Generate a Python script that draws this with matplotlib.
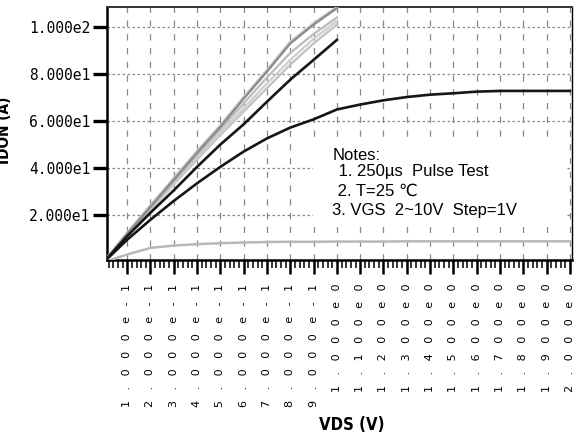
import matplotlib
matplotlib.use("Agg")
import matplotlib.pyplot as plt
from matplotlib.patches import Rectangle

# output characteristics, ID vs VDS for VGS = 2..10 V
vds_long = [0.0, 0.1, 0.2, 0.3, 0.4, 0.5, 0.6, 0.7, 0.8, 0.9, 1.0,
            1.1, 1.2, 1.3, 1.4, 1.5, 1.6, 1.7, 1.8, 1.9, 2.0]
vds_short = [0.0, 0.1, 0.2, 0.3, 0.4, 0.5, 0.6, 0.7, 0.8, 0.9, 1.0]

id_vgs2 = [0, 3.2, 6.0, 7.0, 7.6, 8.0, 8.3, 8.5, 8.6, 8.6, 8.7,
           8.7, 8.7, 8.8, 8.8, 8.8, 8.8, 8.8, 8.8, 8.8, 8.8]
id_vgs3 = [0, 9.5, 18.0, 26.0, 33.5, 40.5, 47.0, 52.6, 57.2, 60.7, 64.9,
           67.0, 68.8, 70.2, 71.2, 71.8, 72.5, 72.8, 72.8, 72.8, 72.8]
id_vgs4 = [0, 11.0, 21.0, 30.5, 40.5, 50.0, 58.6, 68.2, 77.6, 86.0, 94.5]
id_vgs5 = [0, 11.4, 22.2, 33.0, 43.6, 54.0, 64.0, 74.0, 84.0, 93.0, 101.0]
id_vgs6 = [0, 11.6, 22.6, 33.6, 44.5, 55.0, 65.5, 76.0, 86.0, 95.0, 102.5]
id_vgs7 = [0, 11.8, 23.0, 34.3, 45.5, 56.5, 67.5, 78.5, 89.0, 97.0, 104.0]
id_vgs8 = [0, 12.3, 24.0, 35.5, 47.0, 58.0, 70.0, 81.5, 93.5, 101.5, 108.3]
id_vgs9 = [0, 12.0, 23.5, 35.0, 46.5, 57.5, 69.5, 81.0, 93.0, 101.0, 108.0]

xtick_vals = [0.1, 0.2, 0.3, 0.4, 0.5, 0.6, 0.7, 0.8, 0.9, 1.0,
              1.1, 1.2, 1.3, 1.4, 1.5, 1.6, 1.7, 1.8, 1.9, 2.0]
xtick_labels = ["1.000e-1", "2.000e-1", "3.000e-1", "4.000e-1", "5.000e-1",
                "6.000e-1", "7.000e-1", "8.000e-1", "9.000e-1", "1.000e0",
                "1.100e0", "1.200e0", "1.300e0", "1.400e0", "1.500e0",
                "1.600e0", "1.700e0", "1.800e0", "1.900e0", "2.000e0"]
ytick_vals = [20, 40, 60, 80, 100]
ytick_labels = ["2.000e1", "4.000e1", "6.000e1", "8.000e1", "1.000e2"]

notes = ["Notes:", " 1. 250\u00b5s  Pulse Test", " 2. T=25 \u2103", "3. VGS  2~10V  Step=1V"]

fig = plt.figure(figsize=(5.78, 4.45), dpi=100)
ax = fig.add_axes([0.185, 0.4157, 0.8045, 0.5685])

# light curves first, dark ones on top
ax.plot(vds_long, id_vgs2, color="#b8b8b8", lw=1.8, zorder=3)
ax.plot(vds_short, id_vgs5, color="#c4c4c4", lw=1.7, zorder=3)
ax.plot(vds_short, id_vgs6, color="#cfcfcf", lw=1.7, zorder=3)
ax.plot(vds_short, id_vgs7, color="#bdbdbd", lw=1.7, zorder=3)
ax.plot(vds_short, id_vgs8, color="#c8c8c8", lw=2.2, zorder=3)
ax.plot(vds_short, id_vgs9, color="#8a8a8a", lw=1.6, zorder=4)
ax.plot(vds_short, id_vgs4, color="#151515", lw=1.9, zorder=5)
ax.plot(vds_long, id_vgs3, color="#151515", lw=1.9, zorder=5)

ax.set_xlim(0.013, 2.009)
ax.set_ylim(0.85, 108.5)

# ticks, labels written letter-spaced like the original plotter output
ax.set_xticks(xtick_vals)
ax.set_xticklabels(["   ".join(s) for s in xtick_labels], rotation=90,
                   family="DejaVu Sans", fontsize=8)
ax.set_xticks([v / 100 for v in range(2, 201, 2)], minor=True)
ax.set_yticks(ytick_vals)
ax.set_yticklabels(ytick_labels, family="DejaVu Sans Mono", fontsize=10.5)
ax.tick_params(axis="x", which="major", direction="out", length=10, width=1.8, pad=7)
ax.tick_params(axis="x", which="minor", direction="out", length=6, width=1.1)
ax.tick_params(axis="y", which="major", direction="out", length=10, width=2.4, pad=2)

# grid: dotted rows, dashed columns
ax.yaxis.grid(True, color="#888888", lw=0.9, dashes=(2, 2))
ax.xaxis.grid(True, color="#888888", lw=0.9, dashes=(5, 6))
ax.set_axisbelow(True)

for side in ["left", "bottom"]:
    ax.spines[side].set_linewidth(1.8)
ax.spines["top"].set_linewidth(1.4)
ax.spines["top"].set_color("#333333")
ax.spines["right"].set_linewidth(1.0)

# white panel behind the notes
ax.add_patch(Rectangle((0.443, 0.13), 0.544, 0.336, transform=ax.transAxes,
                       facecolor="white", edgecolor="none", zorder=1.5))
note_pos = [(0.486, 0.415), (0.488, 0.348), (0.487, 0.273), (0.484, 0.194)]
for (nx, ny), line in zip(note_pos, notes):
    ax.text(nx, ny, line, transform=ax.transAxes, va="center", ha="left",
            fontsize=12, family=["Liberation Sans", "DejaVu Sans"], zorder=6)

ax.set_xlabel("VDS (V)", fontsize=12, fontweight="bold", family="DejaVu Sans",
              fontstretch="condensed")
ax.xaxis.set_label_coords(0.527, -0.615)
fig.text(0.021, 0.708, "IDON (A)", rotation=90, ha="right", va="center",
         fontsize=11, fontweight="bold", family="DejaVu Sans",
         fontstretch="condensed")

plt.savefig("out.png", dpi=100)
